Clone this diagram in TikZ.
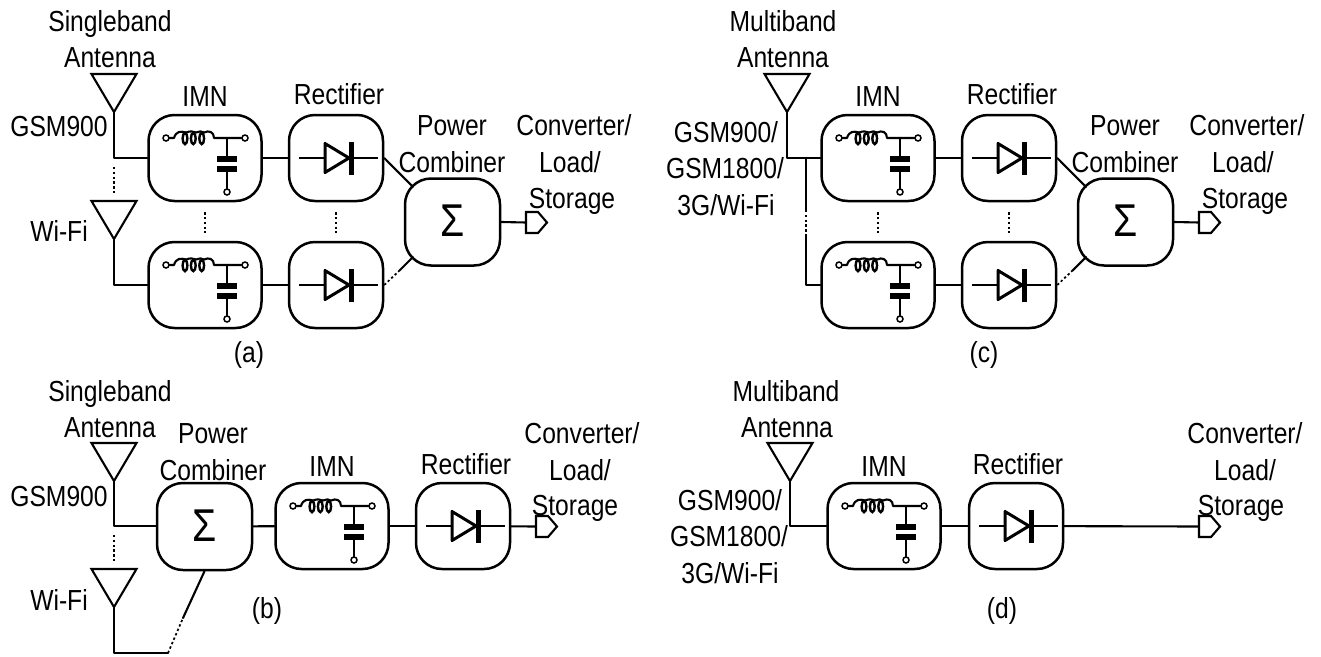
\documentclass[tikz,border=0pt]{standalone}
\usepackage{fontspec}
\setmainfont[FakeStretch=0.85]{Liberation Sans}
\tikzset{
  wire/.style={line width=2.1pt,line cap=round,line join=round},
  thinwire/.style={line width=1.7pt},
  dotwire/.style={line width=1.7pt,dash pattern=on 2.4pt off 2.4pt},
  blockbox/.style={draw,line width=2.5pt,rounded corners=26pt,inner sep=0pt,fill=white},
  imnbox/.style={blockbox,minimum width=113pt,minimum height=86pt},
  recbox/.style={blockbox,minimum width=94pt,minimum height=86pt},
  sumbox/.style={blockbox,minimum width=95pt,minimum height=87pt,font=\fontsize{46}{46}\selectfont},
  lbl/.style={anchor=base,inner sep=0pt,font=\fontsize{29}{29}\selectfont},
  term/.style={draw,line width=1.5pt,fill=white,circle,inner sep=0pt,minimum size=6pt},
  tag/.style={line width=2.1pt,line join=miter}
}
\newcommand{\imnblock}[3]{%
  \node[imnbox] (#1) at (#2,#3) {};
  \begin{scope}[shift={(#2,#3)}]
    \node[term] (#1t1) at (-39,-20) {};
    \node[term] (#1t2) at (40,-20) {};
    \node[term] (#1t3) at (22,34) {};
    \coordinate (#1j) at (22,-20);
    \draw[wire] (#1t1) -- (-31,-20) .. controls (-29,-27) and (-24,-27) .. (-19,-25.5)
      .. controls (-15,-27) and (-12,-27) .. (-9,-25.5) .. controls (-6,-27) and (-3,-27) .. (-1,-25.5)
      .. controls (4,-28) and (9,-26) .. (9,-20) -- (#1t2);
    \foreach \cx in {-20,-11.7,-3.3}{\draw[line width=2.4pt] (\cx,-19.5) ellipse (2.4 and 5.6);}
    \draw[wire] (#1j) -- (22,-0.5);
    \draw[wire] (22,13) -- (#1t3);
    \fill (12,-2) rectangle (32,3.5);
    \fill (12,8) rectangle (32,13.5);
  \end{scope}}
\newcommand{\recblock}[3]{%
  \node[recbox] (#1) at (#2,#3) {};
  \begin{scope}[shift={(#2,#3)}]
    \coordinate (#1a) at (-37,0);
    \coordinate (#1b) at (42,0);
    \draw[thinwire] (#1a) -- (-11,0);
    \draw[thinwire] (16,0) -- (#1b);
    \draw[line width=3pt,line join=round] (-11,-14.5) -- (-11,14.5) -- (13,0) -- cycle;
    \fill (13,-16) rectangle (17.5,17);
  \end{scope}}
\newcommand{\antenna}[3]{%
  \coordinate (#1) at (#2,#3+38);
  \draw[wire,line join=miter] (#2-22.5,#3) -- (#2+22.5,#3) -- (#1) -- cycle;}
\newcommand{\outtag}[3]{%
  \coordinate (#1) at (#2,#3);
  \draw[tag] (#1) ++(0,-10.5) -- ++(12,0) -- ++(9,10.5) -- ++(-9,10.5) -- ++(-12,0) -- cycle;}
\newcommand{\txt}[4]{\node[lbl] (#1) at (#2,#3) {#4};}
\newcommand{\sigmatxt}{\raisebox{2pt}{Σ}}
\begin{document}
\begin{tikzpicture}[x=1pt,y=-1pt]
\useasboundingbox (0,0) rectangle (1321,656);
% ---------- panel a
\antenna{aa}{114}{74}
\antenna{ab}{114}{201}
\imnblock{ai}{205}{158}
\imnblock{aj}{205}{285}
\recblock{ar}{336}{158}
\recblock{as}{336}{285}
\node[sumbox] (ac) at (452.5,222) {\sigmatxt};
\outtag{ao}{526}{222.5}
\coordinate (ad) at (114,158);
\coordinate (ae) at (114,285);
\coordinate (an) at (413,187);
\coordinate (am) at (399,271);
\coordinate (ap) at (413,257);
\draw[wire] (aa) -- (ad) -- (ai);
\draw[wire] (ab) -- (ae) -- (aj);
\draw[wire] (ai) -- (ar);
\draw[wire] (aj) -- (as);
\draw[wire] (ar.east) -- (an);
\draw[dotwire] (as.east) -- (am);
\draw[wire] (am) -- (ap);
\draw[wire] (ac.east) -- (ao);
\draw[dotwire] (114,167) -- (114,193);
\draw[dotwire] (ai.south) ++(0,10) -- ++(0,21);
\draw[dotwire] (ar.south) ++(0,10) -- ++(0,21);
\txt{a1}{110}{31}{Singleband}
\txt{a2}{110}{67}{Antenna}
\txt{a3}{205}{106}{IMN}
\txt{a4}{339}{104}{Rectifier}
\txt{a5}{59}{136}{GSM900}
\txt{a6}{59}{241}{Wi-Fi}
\txt{a7}{452}{135}{Power}
\txt{a8}{452}{172}{Combiner}
\txt{a9}{574}{135}{Converter/}
\txt{a10}{570}{172}{Load/}
\txt{a11}{572}{208}{Storage}
\txt{a12}{249}{362}{(a)}
% ---------- panel c
\antenna{ca}{787}{74}
\imnblock{ci}{878}{158}
\imnblock{cj}{878}{285}
\recblock{cr}{1009}{158}
\recblock{cs}{1009}{285}
\node[sumbox] (cc) at (1125.5,222) {\sigmatxt};
\outtag{co}{1199}{222.5}
\coordinate (cd) at (787,158);
\coordinate (cf) at (806,158);
\coordinate (cg) at (806,285);
\coordinate (cn) at (1086,187);
\coordinate (cm) at (1072,271);
\coordinate (cp) at (1086,257);
\draw[wire] (ca) -- (cd) -- (ci);
\draw[wire] (cf) -- (806,210);
\draw[dotwire] (806,210) -- (806,235);
\draw[wire] (806,235) -- (cg) -- (cj);
\draw[wire] (ci) -- (cr);
\draw[wire] (cj) -- (cs);
\draw[wire] (cr.east) -- (cn);
\draw[dotwire] (cs.east) -- (cm);
\draw[wire] (cm) -- (cp);
\draw[wire] (cc.east) -- (co);
\draw[dotwire] (ci.south) ++(0,10) -- ++(0,21);
\draw[dotwire] (cr.south) ++(0,10) -- ++(0,21);
\txt{c1}{783}{31}{Multiband}
\txt{c2}{783}{67}{Antenna}
\txt{c3}{878}{106}{IMN}
\txt{c4}{1012}{104}{Rectifier}
\txt{c5}{726}{142}{GSM900/}
\txt{c6}{725}{178}{GSM1800/}
\txt{c7}{726}{215}{3G/Wi-Fi}
\txt{c8}{1125}{135}{Power}
\txt{c9}{1125}{172}{Combiner}
\txt{c10}{1247}{135}{Converter/}
\txt{c11}{1243}{172}{Load/}
\txt{c12}{1245}{208}{Storage}
\txt{c13}{984}{362}{(c)}
% ---------- panel b
\antenna{ba}{114}{443}
\antenna{bb}{114}{569}
\node[sumbox] (bc) at (204.5,526.5) {\sigmatxt};
\imnblock{bi}{332}{526}
\recblock{br}{463}{526}
\outtag{bo}{536}{526.5}
\coordinate (bd) at (114,526);
\coordinate (be) at (114,653);
\coordinate (bf) at (168,653);
\coordinate (bm) at (183,618);
\draw[wire] (ba) -- (bd) -- (bd -| bc.west);
\draw[wire] (bb) -- (be) -- (bf);
\draw[dotwire] (bf) -- (bm);
\draw[wire] (bm) -- (bc.south);
\draw[wire] (bc) -- (bi);
\draw[wire] (bi) -- (br);
\draw[wire] (br) -- (bo);
\draw[dotwire] (114,535) -- (114,561);
\txt{b1}{110}{401}{Singleband}
\txt{b2}{110}{437}{Antenna}
\txt{b3}{213}{443}{Power}
\txt{b4}{213}{480}{Combiner}
\txt{b5}{332}{476}{IMN}
\txt{b6}{466}{474}{Rectifier}
\txt{b7}{59}{506}{GSM900}
\txt{b8}{59}{610}{Wi-Fi}
\txt{b9}{267}{618}{(b)}
\txt{b10}{582}{443}{Converter/}
\txt{b11}{580}{480}{Load/}
\txt{b12}{575}{515}{Storage}
% ---------- panel d
\antenna{da}{790}{443}
\imnblock{di}{884}{526}
\recblock{dr}{1016}{526}
\outtag{do}{1199}{526.5}
\coordinate (dd) at (790,526);
\draw[wire] (da) -- (dd) -- (di);
\draw[wire] (di) -- (dr);
\draw[wire] (dr) -- (do);
\txt{d1}{786}{401}{Multiband}
\txt{d2}{787}{437}{Antenna}
\txt{d3}{884}{476}{IMN}
\txt{d4}{1018}{474}{Rectifier}
\txt{d5}{730}{510}{GSM900/}
\txt{d6}{729}{546}{GSM1800/}
\txt{d7}{730}{583}{3G/Wi-Fi}
\txt{d8}{1002}{618}{(d)}
\txt{d9}{1245}{443}{Converter/}
\txt{d10}{1245}{480}{Load/}
\txt{d11}{1241}{515}{Storage}
\end{tikzpicture}
\end{document}
